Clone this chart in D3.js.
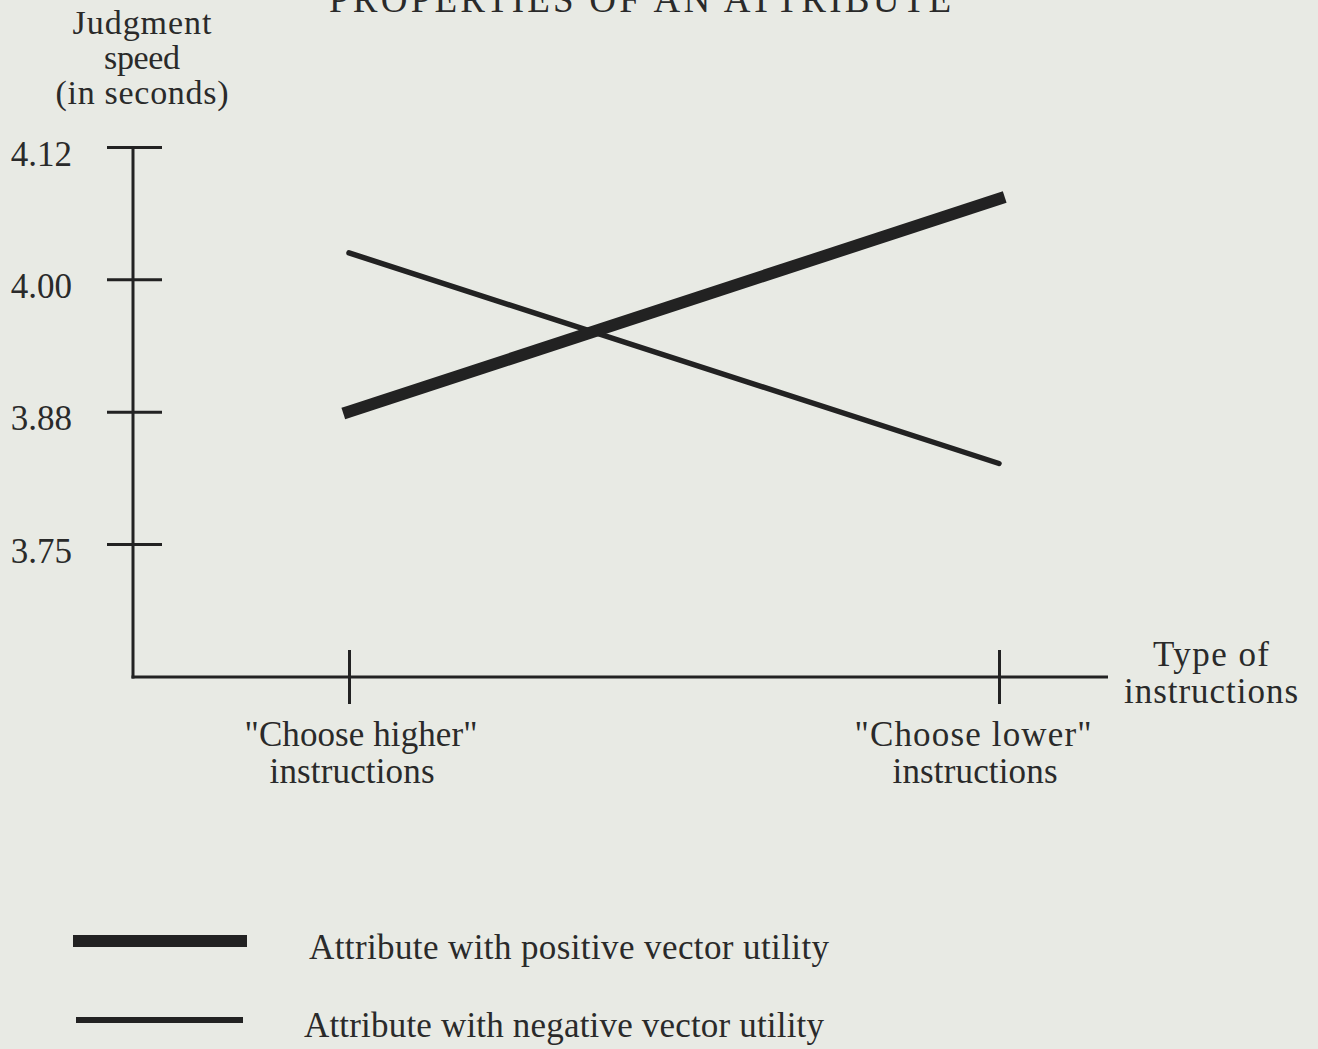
<!DOCTYPE html>
<html>
<head>
<meta charset="utf-8">
<script src="https://cdn.jsdelivr.net/npm/d3@7"></script>
<style>
  html, body { margin: 0; padding: 0; background: #e8eae4; }
  svg { display: block; }
  text { font-family: "Liberation Serif", "Times New Roman", serif; fill: #2a2a2a; }
</style>
</head>
<body>
<svg id="chart" width="1318" height="1049"></svg>
<script>
// ---- data ----
const categories = ['"Choose higher" instructions', '"Choose lower" instructions'];
const categoryLines = [['"Choose higher"', 'instructions'], ['"Choose lower"', 'instructions']];
const positiveValues = [3.880, 4.073];
const negativeValues = [4.024, 3.833];
const yTickValues = [4.12, 4.00, 3.88, 3.76];
const yTickLabels = ["4.12", "4.00", "3.88", "3.75"];
const seriesNames = ["Attribute with positive vector utility", "Attribute with negative vector utility"];
const titleText = "PROPERTIES OF AN ATTRIBUTE";
const yTitleLines = ["Judgment", "speed", "(in seconds)"];
const xTitleLines = ["Type of", "instructions"];

// ---- layout ----
const svg = d3.select("#chart");
const ink = "#222";
const axisX = 133, axisTop = 147, axisBottom = 677, axisRight = 1108;

const y = d3.scaleLinear().domain([3.76, 4.12]).range([544, 147]);
const x = d3.scalePoint().domain(categories).range([349, 999]);

// title (cut off at top, as in the source)
svg.append("text").attr("x", 640).attr("y", 12).attr("text-anchor", "middle")
  .attr("font-size", 37).attr("textLength", 622).attr("lengthAdjust", "spacing")
  .text(titleText);

// y title
const yTitleWidths = [139, 76, 173];
yTitleLines.forEach((t, i) => {
  svg.append("text").attr("x", 142).attr("y", 34 + i * 35).attr("text-anchor", "middle")
    .attr("font-size", 34).attr("textLength", yTitleWidths[i]).attr("lengthAdjust", "spacing")
    .text(t);
});

// y axis
const yAxis = d3.axisLeft(y).tickValues(yTickValues).tickSize(0)
  .tickFormat((d, i) => yTickLabels[i]);
const gy = svg.append("g").attr("transform", `translate(${axisX},0)`).call(yAxis);
gy.select(".domain").remove();
gy.selectAll(".tick line").attr("x1", -26).attr("x2", 29)
  .attr("stroke", ink).attr("stroke-width", 3);
gy.selectAll(".tick text").attr("x", -61).attr("dy", null).attr("y", 18)
  .attr("font-size", 35).attr("fill", "#2a2a2a")
  .style("font-family", '"Liberation Serif", "Times New Roman", serif');
svg.append("line").attr("x1", axisX).attr("x2", axisX).attr("y1", axisTop).attr("y2", axisBottom + 1.5)
  .attr("stroke", ink).attr("stroke-width", 3);

// x axis
const xAxis = d3.axisBottom(x).tickSize(0).tickFormat("");
const gx = svg.append("g").attr("transform", `translate(0,${axisBottom})`).call(xAxis);
gx.select(".domain").remove();
gx.selectAll(".tick line").attr("y1", -27).attr("y2", 27)
  .attr("stroke", ink).attr("stroke-width", 3);
svg.append("line").attr("x1", axisX - 1.5).attr("x2", axisRight).attr("y1", axisBottom).attr("y2", axisBottom)
  .attr("stroke", ink).attr("stroke-width", 3);

// x tick labels
const labelDx = [[12, 3], [-26, -24]];
const labelW = [[233, 165], [237, 165]];
categories.forEach((c, ci) => {
  categoryLines[ci].forEach((t, li) => {
    svg.append("text").attr("x", x(c) + labelDx[ci][li]).attr("y", 746 + li * 37)
      .attr("text-anchor", "middle").attr("font-size", 35)
      .attr("textLength", labelW[ci][li]).attr("lengthAdjust", "spacing")
      .text(t);
  });
});

// x title
const xTitleW = [116, 174];
xTitleLines.forEach((t, i) => {
  svg.append("text").attr("x", 1211).attr("y", 666 + i * 37).attr("text-anchor", "middle")
    .attr("font-size", 35).attr("textLength", xTitleW[i]).attr("lengthAdjust", "spacing")
    .text(t);
});

// series lines
const line = d3.line().x(d => x(d.c)).y(d => y(d.v));
const posData = categories.map((c, i) => ({ c, v: positiveValues[i] }));
const negData = categories.map((c, i) => ({ c, v: negativeValues[i] }));

svg.append("path").datum(negData).attr("d", line)
  .attr("fill", "none").attr("stroke", ink).attr("stroke-width", 5.5).attr("stroke-linecap", "round");
svg.append("path").datum(posData).attr("d", line)
  .attr("fill", "none").attr("stroke", ink).attr("stroke-width", 12).attr("stroke-linecap", "square");

// legend
const legendRows = [
  { name: seriesNames[0], sy: 941, w: 12, x1: 73, x2: 247, tx: 309, ty: 959 },
  { name: seriesNames[1], sy: 1020, w: 6, x1: 76, x2: 243, tx: 304, ty: 1037 }
];
legendRows.forEach(r => {
  svg.append("line").attr("x1", r.x1).attr("x2", r.x2).attr("y1", r.sy).attr("y2", r.sy)
    .attr("stroke", ink).attr("stroke-width", r.w);
  svg.append("text").attr("x", r.tx).attr("y", r.ty).attr("font-size", 35)
    .attr("textLength", 520).attr("lengthAdjust", "spacing").text(r.name);
});
</script>
</body>
</html>
